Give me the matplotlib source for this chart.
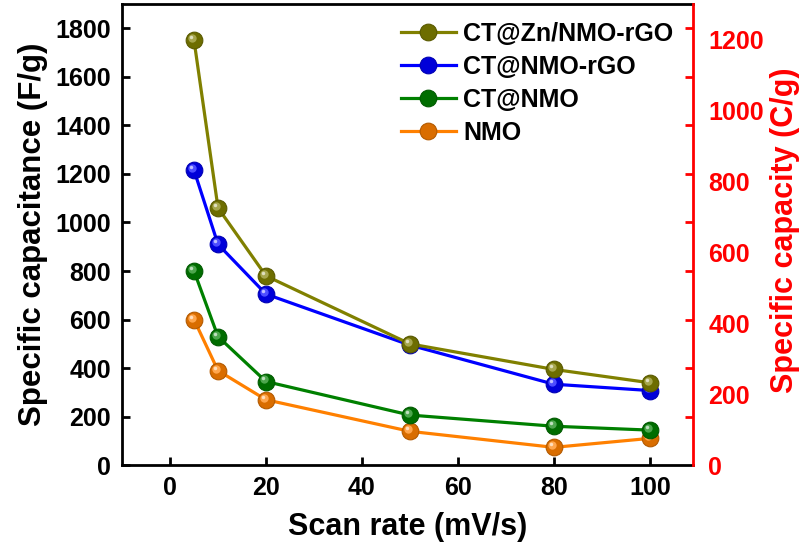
import matplotlib
matplotlib.use("Agg")
import matplotlib.pyplot as plt
from matplotlib.ticker import FixedLocator, MultipleLocator
from matplotlib.transforms import offset_copy
from matplotlib.colors import to_rgb

plt.rcParams["font.family"] = ["Liberation Sans", "DejaVu Sans"]
plt.rcParams["font.weight"] = "bold"

# scan rates (mV/s) and specific capacitance (F/g)
scan_rate = [5, 10, 20, 50, 80, 100]
cap_zn_nmo_rgo = [1750, 1060, 780, 500, 395, 340]
cap_nmo_rgo = [1215, 910, 705, 495, 334, 308]
cap_ct_nmo = [800, 530, 345, 207, 161, 145]
cap_nmo = [600, 390, 270, 140, 74, 111]

labels = ["CT@Zn/NMO-rGO", "CT@NMO-rGO", "CT@NMO", "NMO"]
colors = ["#808000", "#0000FF", "#008000", "#FF8000"]
series = [cap_zn_nmo_rgo, cap_nmo_rgo, cap_ct_nmo, cap_nmo]

left_ticks = [0, 200, 400, 600, 800, 1000, 1200, 1400, 1600, 1800]
right_ticks = [0, 200, 400, 600, 800, 1000, 1200]


def shade(c, f):
    r, g, b = to_rgb(c)
    if f < 0:
        return (r * (1 + f), g * (1 + f), b * (1 + f))
    return (r + (1 - r) * f, g + (1 - g) * f, b + (1 - b) * f)


fig = plt.figure(figsize=(8.03, 5.52), dpi=100)
ax = fig.add_axes([0.152, 0.157, 0.711, 0.836])

handles = []
for i in range(len(series) - 1, -1, -1):
    y = series[i]
    c = colors[i]
    z = 10 - i
    line, = ax.plot(scan_rate, y, color=c, lw=2.3, marker="o", ms=12,
                    mfc=shade(c, -0.15), mec=shade(c, -0.3), mew=0.8,
                    zorder=z, label=labels[i])
    # glossy highlight on the spheres
    hl = offset_copy(ax.transData, fig=fig, x=-1.5, y=1.5, units="points")
    ax.plot(scan_rate, y, ls="none", marker="o", ms=6, mfc=shade(c, 0.3),
            mec="none", transform=hl, zorder=z)
    hl2 = offset_copy(ax.transData, fig=fig, x=-2.2, y=2.2, units="points")
    ax.plot(scan_rate, y, ls="none", marker="o", ms=2.5, mfc=shade(c, 0.75),
            mec="none", transform=hl2, zorder=z)
    handles.append(line)
handles = handles[::-1]

ax.set_xlim(-10, 109)
ax.set_ylim(0, 1900)
ax.xaxis.set_major_locator(MultipleLocator(20))
ax.yaxis.set_major_locator(FixedLocator(left_ticks))
ax.tick_params(direction="in", length=6, width=2, labelsize=18, pad=8,
               right=False, top=False)
ax.tick_params(axis="x", pad=8)
for s in ax.spines.values():
    s.set_linewidth(2)

ax.set_xlabel("Scan rate (mV/s)", fontsize=22, fontweight="bold", labelpad=8)
ax.set_ylabel("Specific capacitance (F/g)", fontsize=22.5, fontweight="bold",
              labelpad=5)

# secondary scale in C/g
ax2 = ax.twinx()
ax2.set_ylim(0, 1300)
ax2.yaxis.set_major_locator(FixedLocator(right_ticks))
ax2.yaxis.set_minor_locator(FixedLocator([v * 1300 / 1900 for v in left_ticks]))
ax2.tick_params(axis="y", which="major", length=0, labelsize=18, pad=11,
                colors="red")
ax2.tick_params(axis="y", which="minor", direction="in", length=6, width=2,
                color="red")
ax2.spines["right"].set_color("red")
ax2.spines["right"].set_linewidth(2)
ax2.spines["top"].set_visible(False)
ax2.spines["left"].set_visible(False)
ax2.spines["bottom"].set_visible(False)
ax.spines["right"].set_visible(False)
fig.text(785 / 803, 1 - 230 / 552, "Specific capacity (C/g)", rotation=90,
         ha="center", va="center", fontsize=22, fontweight="bold", color="red")

leg = ax.legend(handles=handles, loc="upper left", frameon=False, fontsize=18,
                handlelength=2.2, handletextpad=0.3, labelspacing=0.36,
                borderpad=0, borderaxespad=0,
                bbox_to_anchor=(401 / 803, 1 - 22 / 552),
                bbox_transform=fig.transFigure)
leg.set_zorder(20)

fig.savefig("out.png", dpi=100)
